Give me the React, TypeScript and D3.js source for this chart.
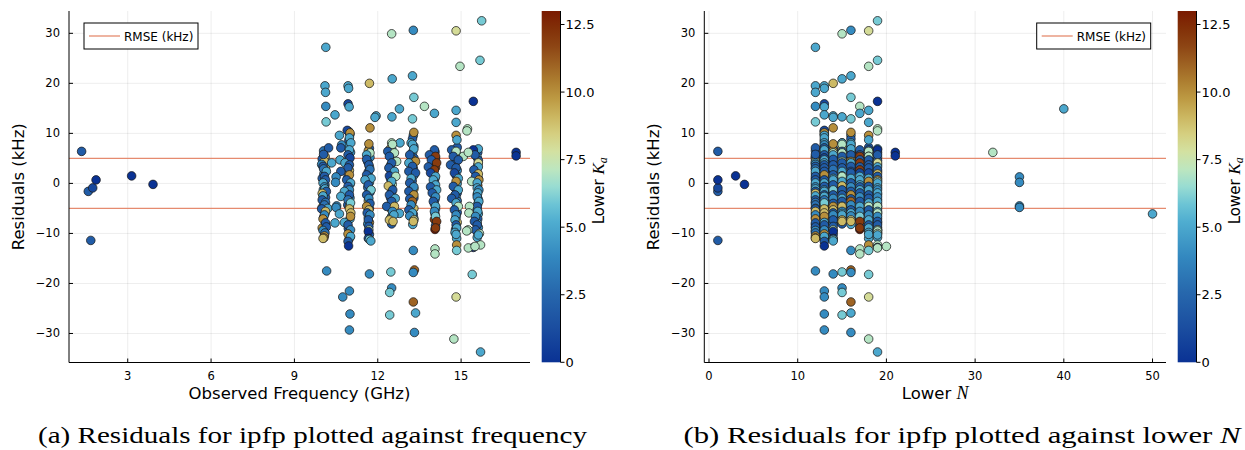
import React from "react";
import * as d3 from "d3";

// Each entry: [observed frequency (GHz), lower Ka, residual (kHz)], grouped by lower N
const n1 = [[1.34, 2, 6.4], [1.58, 2, -1.6], [1.74, 1, -0.9], [1.86, 0, 0.7], [1.67, 2, -11.4]];
const n3 = [[3.14, 0, 1.5]];
const n4 = [[3.91, 0, -0.2]];
const n12 = [
  [10.05, 3, 6.5], [10.1, 4, 5.2], [10.02, 2, 4.0], [10.12, 9, 3.0], [10.06, 4, 1.9], [10.0, 2, 1.0],
  [10.1, 3, -0.3], [10.04, 4, -1.3], [10.12, 2, -2.8], [10.06, 5, -3.8], [10.0, 9, -4.8], [10.1, 2, -6.0],
  [10.05, 4, -6.8], [10.12, 3, -8.2], [10.0, 10, -8.9], [10.08, 2, -9.6],
  [10.13, 5, 27.2], [10.1, 5, 19.5], [10.12, 5, 18.2], [10.13, 4, 15.4], [10.14, 6, 12.3],
  [10.23, 2, 7.1], [10.1, 9, 5.4], [10.0, 2, 4.9], [10.08, 9, 4.4], [10.34, 5, 4.1], [9.98, 4, 3.8],
  [10.03, 2, 3.4], [10.05, 3, 2.9], [10.15, 5, 2.4], [10.08, 2, 1.4], [10.12, 2, 0.7], [10.03, 5, 0.1],
  [10.08, 4, -0.7], [10.1, 5, -1.1], [10.15, 2, -1.6], [10.0, 9, -2.0], [10.03, 5, -2.5], [10.0, 2, -3.3],
  [10.12, 3, -3.8], [10.08, 3, -4.3], [10.2, 5, -5.0], [9.98, 2, -5.1], [10.12, 9, -5.6], [10.08, 4, -6.3],
  [10.03, 10, -7.1], [10.12, 2, -7.9], [10.15, 2, -8.7], [10.03, 4, -9.4], [10.1, 3, -9.9],
  [10.08, 10, -10.5], [10.06, 10, -10.9], [10.03, 9, -11.0], [10.05, 2, 5.8], [10.16, 4, -17.5],
];
const n13 = [
  [10.95, 3, 10.4], [11.0, 4, 9.8], [10.96, 2, 8.6], [10.9, 5, 7.4], [11.02, 4, 6.2], [10.95, 3, 4.5],
  [10.98, 9, 2.6], [10.92, 2, 1.2], [11.0, 5, -0.2], [10.95, 2, -1.8], [11.0, 4, -2.9], [10.92, 2, -4.3],
  [10.98, 10, -4.7], [11.0, 5, -7.1], [10.94, 2, -9.0], [11.0, 10, -10.8], [10.96, 9, -11.2],
  [10.93, 5, 19.5], [10.95, 5, 19.0], [10.93, 1, 15.9], [10.97, 5, 15.3], [10.46, 5, 13.7],
  [10.9, 1, 10.6], [11.0, 10, 10.1], [10.62, 5, 9.6], [10.98, 5, 9.1], [11.03, 5, 8.1], [10.7, 4, 7.7],
  [10.67, 2, 7.1], [10.98, 5, 6.7], [10.93, 2, 5.7], [11.0, 1, 5.1], [10.64, 5, 4.7], [10.82, 5, 4.1],
  [10.98, 2, 3.7], [10.93, 2, 3.1], [10.67, 2, 2.4], [10.98, 10, 1.7], [10.88, 2, 0.7], [11.02, 5, 0.1],
  [10.93, 2, -0.6], [10.98, 4, -1.3], [10.8, 5, -1.6], [10.98, 2, -2.3], [10.67, 5, -2.6], [10.93, 3, -3.3],
  [11.02, 6, -3.9], [10.98, 9, -5.1], [11.03, 9, -5.9], [11.02, 10, -6.6], [10.46, 5, -7.9], [10.8, 5, -7.8],
  [10.93, 2, -8.3], [11.02, 4, -9.3], [10.93, 10, -10.1], [11.02, 5, -10.6], [10.93, 2, -11.6],
  [10.95, 0, -12.5], [10.98, 4, -21.5], [10.74, 4, -22.7], [11.0, 4, -26.1], [10.98, 4, -29.3],
];
const n14 = [
  [11.7, 2, 7.0], [11.66, 10, 6.5], [11.72, 4, 5.2], [11.64, 2, 4.3], [11.7, 9, 3.3], [11.66, 2, 2.3],
  [11.7, 5, 0.2], [11.64, 3, -0.8], [11.72, 2, -1.8], [11.66, 9, -3.5], [11.7, 2, -5.0], [11.66, 5, -6.8],
  [11.7, 10, -7.8], [11.64, 4, -8.1], [11.7, 2, -10.2],
  [11.7, 9, 20.0], [11.94, 5, 13.5], [11.9, 5, 13.2], [11.72, 10, 11.1], [11.68, 10, 7.9],
  [11.72, 7, 6.1], [11.6, 5, 5.7], [11.6, 2, 4.8], [11.68, 2, 3.7], [11.72, 3, 2.8], [11.6, 2, 1.7],
  [11.76, 5, 1.0], [11.54, 5, 0.7], [11.66, 2, -0.3], [11.76, 6, -1.3], [11.6, 2, -2.3], [11.68, 4, -3.0],
  [11.72, 2, -4.0], [11.6, 10, -4.6], [11.68, 9, -5.3], [11.62, 2, -5.9], [11.72, 4, -6.3], [11.66, 2, -7.3],
  [11.68, 2, -8.6], [11.68, 7, -9.3], [11.66, 0, -9.6], [11.66, 1, -11.0], [11.7, 6, -11.2],
  [11.75, 5, -11.5], [11.7, 4, -18.1],
];
const n15 = [
  [12.5, 3, 7.0], [12.45, 9, 6.9], [12.52, 2, 5.0], [12.46, 5, 3.6], [12.5, 2, 2.0], [12.46, 3, 0.9],
  [12.52, 7, -0.2], [12.48, 2, -0.9], [12.5, 5, -1.8], [12.46, 2, -2.9], [12.52, 3, -4.1], [12.48, 9, -5.1],
  [12.5, 5, -6.6], [12.46, 4, -7.0], [12.5, 2, -8.1],
  [12.5, 7, 29.9], [12.52, 5, 20.9], [12.51, 5, 13.3], [12.5, 7, 8.1], [12.8, 5, 8.1], [12.53, 7, 7.8],
  [12.36, 2, 6.4], [12.6, 7, 6.1], [12.42, 2, 5.4], [12.68, 7, 4.4], [12.5, 2, 4.1], [12.4, 2, 3.1],
  [12.6, 5, 2.4], [12.42, 1, 1.5], [12.65, 7, 1.4], [12.5, 5, 0.4], [12.38, 9, -0.5], [12.54, 2, -1.3],
  [12.42, 2, -2.3], [12.63, 5, -3.0], [12.5, 2, -3.6], [12.32, 2, -4.6], [12.6, 9, -4.6], [12.53, 4, -5.6],
  [12.78, 5, -6.0], [12.58, 5, -6.3], [12.42, 9, -7.3], [12.55, 9, -7.6], [12.47, 6, -17.7],
  [12.5, 4, -20.9], [12.43, 6, -21.8], [12.43, 6, -26.3],
];
const n16 = [
  [13.28, 4, 9.6], [13.25, 2, 8.9], [13.3, 3, 7.4], [13.26, 5, 6.3], [13.3, 2, 5.1], [13.24, 10, 4.8],
  [13.28, 3, 3.0], [13.3, 5, 1.6], [13.24, 2, 0.5], [13.3, 10, -1.1], [13.26, 4, -2.0], [13.3, 2, -2.9],
  [13.24, 5, -4.8], [13.3, 9, -5.0], [13.28, 2, -6.2], [13.3, 4, -7.0], [13.26, 5, -8.2],
  [13.28, 4, 30.6], [13.25, 5, 21.5], [13.3, 6, 17.2], [13.25, 6, 12.9], [13.3, 10, 10.2],
  [13.2, 5, 8.1], [13.25, 5, 7.8], [13.3, 5, 6.9], [13.15, 2, 5.7], [13.36, 10, 4.4], [13.12, 5, 4.1],
  [13.25, 2, 3.4], [13.12, 2, 2.4], [13.36, 2, 2.1], [13.2, 5, 1.0], [13.15, 2, 0.1], [13.3, 4, -0.7],
  [13.12, 2, -1.6], [13.3, 10, -2.3], [13.15, 2, -3.1], [13.25, 11, -3.6], [13.2, 4, -4.3],
  [13.12, 2, -5.3], [13.25, 5, -5.9], [13.15, 4, -6.5], [13.3, 8, -7.3], [13.28, 9, -7.6],
  [13.28, 4, -13.4], [13.32, 11, -17.3], [13.28, 4, -17.8], [13.28, 11, -23.7], [13.36, 5, -25.9],
  [13.32, 4, -29.8],
];
const n17 = [
  [14.06, 2, 6.3], [14.02, 12, 6.0], [14.08, 2, 5.0], [14.05, 1, 3.8], [14.08, 12, 3.2], [14.02, 2, 2.4],
  [14.06, 5, 1.0], [14.04, 2, 0.3], [14.08, 4, -0.9], [14.04, 5, -2.3], [14.06, 2, -3.2], [14.04, 5, -4.1],
  [14.08, 4, -5.1], [14.06, 5, -6.1], [14.04, 12, -7.2], [14.08, 2, -8.4], [14.06, 13, -9.2],
  [13.68, 7, 15.4], [14.04, 5, 14.0], [14.04, 2, 6.7], [13.86, 2, 5.7], [14.08, 12, 5.4],
  [13.93, 2, 4.7], [14.12, 12, 4.1], [13.82, 2, 3.3], [14.04, 12, 2.7], [13.9, 1, 2.1], [14.08, 5, 1.4],
  [14.0, 5, 0.7], [14.08, 5, -0.3], [13.9, 2, -0.7], [14.12, 5, -1.3], [13.96, 2, -1.9], [14.08, 4, -2.7],
  [14.0, 2, -3.6], [14.08, 5, -4.6], [14.04, 4, -5.6], [14.08, 6, -6.6], [14.12, 12, -7.6],
  [14.08, 12, -8.9], [14.06, 7, -13.1], [14.06, 7, -14.1],
];
const n18 = [
  [14.86, 2, 7.2], [14.82, 3, 6.0], [14.86, 10, 4.9], [14.8, 2, 4.2], [14.86, 4, 2.6], [14.82, 2, 1.6],
  [14.86, 5, 0.0], [14.8, 3, -1.0], [14.86, 2, -1.9], [14.82, 5, -2.7], [14.86, 3, -3.5], [14.82, 4, -4.9],
  [14.86, 2, -5.8], [14.82, 5, -6.8], [14.86, 9, -7.8], [14.8, 2, -9.2], [14.84, 5, -11.0],
  [14.82, 8, 30.5], [14.96, 7, 23.4], [14.82, 5, 14.6], [14.82, 5, 12.2], [14.82, 10, 9.6],
  [14.85, 5, 8.7], [14.66, 2, 6.7], [14.82, 7, 6.4], [14.72, 2, 5.4], [15.08, 7, 5.4], [14.9, 2, 4.7],
  [14.62, 2, 3.7], [14.82, 2, 3.1], [14.76, 1, 2.1], [14.9, 5, 1.0], [14.82, 10, 0.4], [14.72, 2, -0.6],
  [14.9, 5, -1.3], [14.78, 2, -2.3], [14.66, 2, -3.0], [14.82, 5, -3.9], [14.9, 7, -4.6], [14.76, 2, -5.3],
  [14.82, 4, -6.3], [14.78, 5, -7.3], [14.82, 2, -8.3], [14.84, 5, -8.9], [14.78, 5, -9.8],
  [14.82, 5, -10.2], [14.84, 10, -12.3], [14.84, 6, -13.4], [15.4, 6, -18.2], [14.82, 8, -22.7],
  [14.74, 7, -31.1],
];
const n19 = [
  [15.6, 2, 6.2], [15.58, 5, 5.2], [15.62, 2, 4.6], [15.6, 3, 3.7], [15.58, 5, 2.3], [15.62, 2, 1.0],
  [15.6, 11, -0.4], [15.58, 4, -2.2], [15.62, 2, -3.2], [15.6, 5, -4.1], [15.58, 3, -5.1], [15.62, 5, -6.1],
  [15.6, 2, -7.1], [15.58, 5, -7.9], [15.62, 4, -8.8], [15.6, 2, -9.8], [15.58, 5, -10.8],
  [15.74, 6, 32.5], [15.68, 6, 24.6], [15.44, 0, 16.4], [15.23, 7, 10.9], [15.21, 7, 10.5],
  [15.62, 5, 6.9], [15.44, 0, 6.7], [15.5, 2, 5.7], [15.62, 8, 4.1], [15.62, 5, 3.3], [15.46, 2, 2.7],
  [15.62, 9, 1.9], [15.52, 2, 1.4], [15.64, 10, 0.7], [15.38, 7, 0.4], [15.58, 5, 0.1], [15.58, 5, -0.9],
  [15.64, 4, -1.3], [15.6, 5, -1.9], [15.58, 4, -2.7], [15.64, 5, -3.6], [15.58, 2, -4.6], [15.3, 7, -4.6],
  [15.6, 5, -5.6], [15.28, 7, -5.9], [15.52, 4, -6.6], [15.48, 2, -7.6], [15.58, 2, -8.3],
  [15.52, 2, -9.3], [15.25, 7, -9.3], [15.2, 7, -9.5], [15.66, 7, -10.0], [15.62, 5, -10.3],
  [15.7, 7, -12.3], [15.44, 0, -12.8], [15.26, 7, -12.9], [15.7, 5, -33.7],
];
const n20 = [[15.5, 7, -12.6]];
const n21 = [[16.98, 0, 6.2], [16.98, 0, 5.5]];
const n32 = [[15.26, 7, 6.2]];
const n35 = [[10.5, 4, 1.3], [10.48, 4, 0.2], [10.52, 4, -4.5], [10.5, 4, -4.8]];
const n40 = [[12.78, 5, 14.9]];
const n50 = [[10.62, 5, -6.1]];

const groups: [number, number[][]][] = [
  [1, n1], [3, n3], [4, n4], [12, n12], [13, n13], [14, n14], [15, n15], [16, n16],
  [17, n17], [18, n18], [19, n19], [20, n20], [21, n21], [32, n32], [35, n35], [40, n40], [50, n50],
];

const rmse = 5;
const yTicks = [-30, -20, -10, 0, 10, 20, 30];
const freqTicks = [3, 6, 9, 12, 15];
const nTicks = [0, 10, 20, 30, 40, 50];
const cbTicks = [0, 2.5, 5, 7.5, 10, 12.5];
const cbTickLabels = ["0", "2.5", "5.0", "7.5", "10.0", "12.5"];

// reversed "roma" colour map
const romaStops = [
  "#0a3294", "#1b4ea0", "#2768ad", "#3388bf", "#4fadd0", "#6cc4d5", "#98dcd2", "#bde6bf",
  "#d3e1a1", "#d5cf80", "#cbb660", "#bd9a43", "#ad7e30", "#9d6122", "#8d4514", "#823008", "#7a1a00",
];
const stopPos = [0, 0.1, 0.2, 0.3, 0.4, 0.45, 0.5, 0.55, 0.6, 0.65, 0.7, 0.75, 0.8, 0.85, 0.9, 0.95, 1];
const kaMax = 13;

const points = groups.flatMap(([N, arr]) => arr.map(([f, ka, r]) => ({ N, f, ka, r })));

const color = d3
  .scaleLinear<string>()
  .domain(stopPos.map((t) => t * kaMax))
  .range(romaStops)
  .interpolate(d3.interpolateRgb)
  .clamp(true);

const Y0 = 11;
const Y1 = 362.5;
const CB1 = 362.3;
const yScale = d3.scaleLinear().domain([-35.8, 34.46]).range([Y1, Y0]);
const cbScale = d3.scaleLinear().domain([0, kaMax]).range([CB1, Y0]);

const FONT = "DejaVu Sans, sans-serif";

type PanelProps = {
  id: string;
  x0: number;
  x1: number;
  domain: [number, number];
  ticks: number[];
  getX: (p: { N: number; f: number }) => number;
  xLabel: React.ReactNode;
  legendX: number;
};

function Panel({ id, x0, x1, domain, ticks, getX, xLabel, legendX }: PanelProps) {
  const xScale = d3.scaleLinear().domain(domain).range([x0, x1]);
  const cbx = x1 + 11.7;
  const cbw = 18.8;
  return (
    <g>
      <defs>
        <linearGradient id={`cb-${id}`} x1="0" y1="1" x2="0" y2="0">
          {stopPos.map((t, i) => (
            <stop key={i} offset={`${((cbScale(t * kaMax) - CB1) / (Y0 - CB1)) * 100}%`} stopColor={romaStops[i]} />
          ))}
        </linearGradient>
        <clipPath id={`clip-${id}`}>
          <rect x={x0} y={Y0} width={x1 - x0} height={Y1 - Y0} />
        </clipPath>
      </defs>
      {ticks.map((t) => (
        <line key={`gx${t}`} x1={xScale(t)} x2={xScale(t)} y1={Y0} y2={Y1} stroke="#000" strokeOpacity={0.1} strokeWidth={0.7} />
      ))}
      {yTicks.map((t) => (
        <line key={`gy${t}`} x1={x0} x2={x1} y1={yScale(t)} y2={yScale(t)} stroke="#000" strokeOpacity={0.1} strokeWidth={0.7} />
      ))}
      {[rmse, -rmse].map((v) => (
        <line key={`r${v}`} x1={x0} x2={x1} y1={yScale(v)} y2={yScale(v)} stroke="#e58b6f" strokeWidth={1.3} />
      ))}
      <g clipPath={`url(#clip-${id})`}>
        {points.map((p, i) => (
          <circle key={i} cx={xScale(getX(p))} cy={yScale(p.r)} r={4.3} fill={color(p.ka)} stroke="#1a1a1a" strokeWidth={0.75} />
        ))}
      </g>
      <line x1={x0} x2={x0} y1={Y0} y2={Y1} stroke="#000" strokeWidth={1} />
      <line x1={x0} x2={x1} y1={Y1} y2={Y1} stroke="#000" strokeWidth={1} />
      {ticks.map((t) => (
        <g key={`tx${t}`}>
          <line x1={xScale(t)} x2={xScale(t)} y1={Y1} y2={Y1 - 4} stroke="#000" strokeWidth={1} />
          <text x={xScale(t)} y={379.5} textAnchor="middle" fontSize={11.5} fontFamily={FONT} fill="#000">
            {t}
          </text>
        </g>
      ))}
      {yTicks.map((t) => (
        <g key={`ty${t}`}>
          <line x1={x0} x2={x0 + 4} y1={yScale(t)} y2={yScale(t)} stroke="#000" strokeWidth={1} />
          <text x={x0 - 9} y={yScale(t) + 4} textAnchor="end" fontSize={11.5} fontFamily={FONT} fill="#000">
            {t < 0 ? `\u2212${-t}` : t}
          </text>
        </g>
      ))}
      <text
        transform={`translate(${x0 - 45},${(Y0 + Y1) / 2}) rotate(-90)`}
        textAnchor="middle"
        fontSize={16.5}
        fontFamily={FONT}
        fill="#000"
      >
        Residuals (kHz)
      </text>
      <text x={(x0 + x1) / 2} y={398.5} textAnchor="middle" fontSize={16.5} fontFamily={FONT} fill="#000">
        {xLabel}
      </text>
      <rect x={legendX} y={23} width={114} height={26} fill="#fff" stroke="#000" strokeWidth={1} />
      <line x1={legendX + 5} x2={legendX + 36} y1={36} y2={36} stroke="#e58b6f" strokeWidth={1.3} />
      <text x={legendX + 40} y={40.5} fontSize={12} fontFamily={FONT} fill="#000">
        RMSE (kHz)
      </text>
      <rect x={cbx} y={Y0} width={cbw} height={CB1 - Y0} fill={`url(#cb-${id})`} />
      <line x1={cbx + cbw} x2={cbx + cbw} y1={Y0} y2={CB1} stroke="#000" strokeWidth={1} />
      {cbTicks.map((t, i) => (
        <g key={`cb${t}`}>
          <line x1={cbx + cbw} x2={cbx + cbw + 4} y1={cbScale(t)} y2={cbScale(t)} stroke="#000" strokeWidth={1} />
          <text x={cbx + cbw + 5} y={cbScale(t) + 4.5} fontSize={13} fontFamily={FONT} fill="#000">
            {cbTickLabels[i]}
          </text>
        </g>
      ))}
      <text
        transform={`translate(${cbx + cbw + 43},${(Y0 + Y1) / 2 + 4}) rotate(-90)`}
        textAnchor="middle"
        fontSize={15}
        fontFamily={FONT}
        fill="#000"
      >
        Lower{" "}
        <tspan fontFamily="Liberation Serif, serif" fontStyle="italic" fontSize={17}>
          K
        </tspan>
        <tspan fontFamily="Liberation Serif, serif" fontStyle="italic" fontSize={12} dy={3}>
          a
        </tspan>
      </text>
    </g>
  );
}

export default function App() {
  return (
    <svg width={1245} height={450} style={{ position: "absolute", left: 0, top: 0, background: "#fff" }}>
      <rect width={1245} height={450} fill="#fff" />
      <Panel
        id="a"
        x0={69}
        x1={530}
        domain={[0.886, 17.48]}
        ticks={freqTicks}
        getX={(p) => p.f}
        xLabel="Observed Frequency (GHz)"
        legendX={84}
      />
      <Panel
        id="b"
        x0={704.3}
        x1={1166}
        domain={[-0.53, 51.52]}
        ticks={nTicks}
        getX={(p) => p.N}
        xLabel={
          <>
            Lower{" "}
            <tspan fontFamily="Liberation Serif, serif" fontStyle="italic" fontSize={18}>
              N
            </tspan>
          </>
        }
        legendX={1036.7}
      />
      <text x={312.5} y={443} textAnchor="middle" fontSize={23} fontFamily="Liberation Serif, serif" fill="#000" textLength={549} lengthAdjust="spacingAndGlyphs">
        (a) Residuals for ipfp plotted against frequency
      </text>
      <text x={962} y={443} textAnchor="middle" fontSize={23} fontFamily="Liberation Serif, serif" fill="#000" textLength={557} lengthAdjust="spacingAndGlyphs">
        (b) Residuals for ipfp plotted against lower <tspan fontStyle="italic">N</tspan>
      </text>
    </svg>
  );
}
